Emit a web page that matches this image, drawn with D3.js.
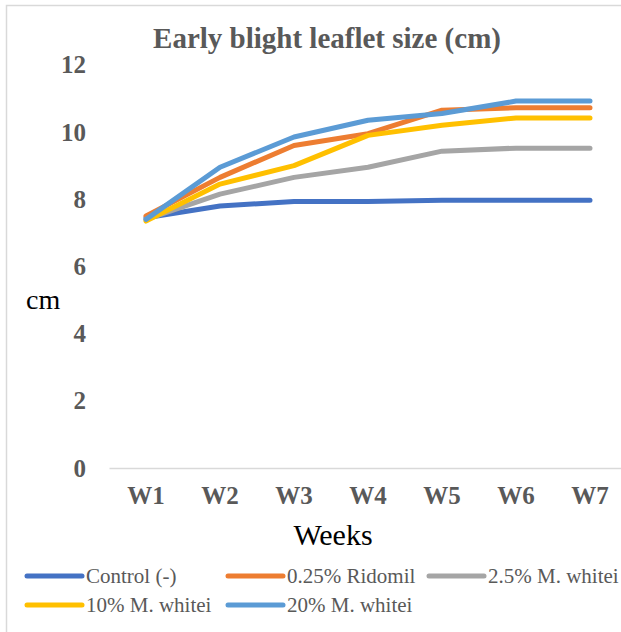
<!DOCTYPE html>
<html>
<head>
<meta charset="utf-8">
<script src="https://cdn.jsdelivr.net/npm/d3@7"></script>
<style>
  html, body { margin: 0; padding: 0; background: #fff; }
  svg { display: block; }
  text { font-family: "Liberation Serif", "Times New Roman", serif; }
</style>
</head>
<body>
<svg id="chart" width="621" height="632"></svg>
<script>
// Weekly leaflet size (cm) per treatment
const weeks = ["W1", "W2", "W3", "W4", "W5", "W6", "W7"];
const seriesNames = ["Control (-)", "0.25% Ridomil", "2.5% M. whitei", "10% M. whitei", "20% M. whitei"];
const control   = [7.45, 7.8, 7.93, 7.93, 7.97, 7.97, 7.97];
const ridomil   = [7.5, 8.65, 9.6, 9.95, 10.65, 10.72, 10.72];
const whitei2_5 = [7.4, 8.15, 8.65, 8.95, 9.43, 9.52, 9.52];
const whitei10  = [7.35, 8.45, 9.0, 9.9, 10.2, 10.42, 10.42];
const whitei20  = [7.4, 8.95, 9.85, 10.35, 10.55, 10.92, 10.92];
const yTicks = [0, 2, 4, 6, 8, 10, 12];
const colors = ["#4472C4", "#ED7D31", "#A5A5A5", "#FFC000", "#5B9BD5"];

const series = [control, ridomil, whitei2_5, whitei10, whitei20].map((v, i) => ({
  name: seriesNames[i], values: v, color: colors[i]
}));

const svg = d3.select("#chart");

// chart frame
svg.append("rect")
  .attr("x", 6.5).attr("y", 5.5)
  .attr("width", 660).attr("height", 660)
  .attr("fill", "#fff").attr("stroke", "#d9d9d9").attr("stroke-width", 1.5);

const x = d3.scaleBand().domain(weeks).range([109, 627]);
const y = d3.scaleLinear().domain([0, 12]).range([468, 64.8]);

// title
svg.append("text")
  .attr("x", 327).attr("y", 48)
  .attr("text-anchor", "middle")
  .attr("font-size", 29).attr("font-weight", "bold")
  .attr("fill", "#595959")
  .text("Early blight leaflet size (cm)");

// y axis labels (no line, no ticks)
const yAxis = d3.axisLeft(y).tickValues(yTicks).tickSize(0).tickPadding(0);
const gy = svg.append("g").attr("transform", "translate(86,0)").call(yAxis);
gy.select(".domain").remove();
gy.selectAll("text")
  .attr("font-family", "Liberation Serif, serif")
  .attr("font-size", 25).attr("font-weight", "bold")
  .attr("fill", "#595959");

// category axis baseline and labels
const xAxis = d3.axisBottom(x).tickSize(0).tickPadding(18);
const gx = svg.append("g").attr("transform", `translate(0,${y(0)})`).call(xAxis);
gx.select(".domain").attr("stroke", "#d9d9d9").attr("stroke-width", 1.5);
gx.selectAll("text")
  .attr("font-family", "Liberation Serif, serif")
  .attr("font-size", 25).attr("font-weight", "bold")
  .attr("fill", "#595959");

// axis titles
svg.append("text")
  .attr("x", 333).attr("y", 545)
  .attr("text-anchor", "middle")
  .attr("font-size", 30).attr("fill", "#000")
  .text("Weeks");
svg.append("text")
  .attr("x", 26).attr("y", 309)
  .attr("font-size", 28).attr("fill", "#000")
  .text("cm");

// series lines
const line = d3.line()
  .x((d, i) => x(weeks[i]) + x.bandwidth() / 2)
  .y(d => y(d));

svg.append("g").selectAll("path")
  .data(series)
  .join("path")
  .attr("d", d => line(d.values))
  .attr("fill", "none")
  .attr("stroke", d => d.color)
  .attr("stroke-width", 5)
  .attr("stroke-linecap", "round")
  .attr("stroke-linejoin", "round");

// legend
const legendPos = [
  { lx: 27, ly: 576 }, { lx: 228, ly: 576 }, { lx: 429, ly: 576 },
  { lx: 27, ly: 605 }, { lx: 228, ly: 605 }
];
const lg = svg.append("g").selectAll("g")
  .data(series)
  .join("g")
  .attr("transform", (d, i) => `translate(${legendPos[i].lx},${legendPos[i].ly})`);
lg.append("line")
  .attr("x1", 0).attr("x2", 55)
  .attr("stroke", d => d.color)
  .attr("stroke-width", 5)
  .attr("stroke-linecap", "round");
lg.append("text")
  .attr("x", 59).attr("y", 7)
  .attr("font-size", 21).attr("fill", "#595959")
  .text(d => d.name);
</script>
</body>
</html>
